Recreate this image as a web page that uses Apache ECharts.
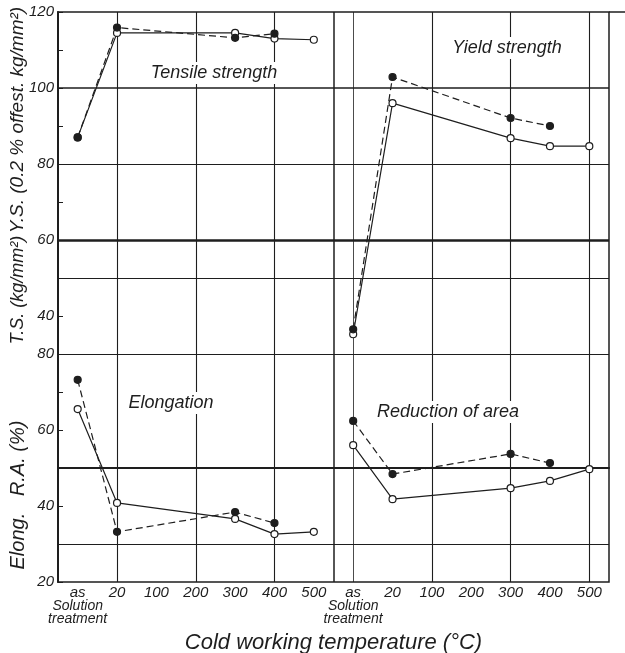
<!DOCTYPE html>
<html>
<head>
    <meta charset="utf-8">
    <title>Cold working temperature</title>
    <script src="https://cdn.jsdelivr.net/npm/echarts@6/dist/echarts.min.js"></script>
    <style>
        html, body { margin: 0; padding: 0; background: #fff; }
        #main { width: 625px; height: 653px; }
    </style>
</head>
<body>
<div id="main"></div>
<script>
    // categories of each panel (left: strength/elongation, right: yield/RA)
    var temps = ['as', '20', '100', '200', '300', '400', '500'];

    // upper scale kg/mm2 (null = not measured)
    var tsOpen   = [87.0, 114.5, null, null, 114.5, 113.0, 112.7];
    var tsFilled = [87.0, 115.9, null, null, 113.2, 114.3, null];
    var ysOpen   = [35.2, 96.0, null, null, 86.8, 84.7, 84.7];
    var ysFilled = [36.5, 102.9, null, null, 92.1, 90.0, null];

    // lower scale %
    var elOpen   = [65.5, 40.8, null, null, 36.6, 32.6, 33.2];
    var elFilled = [73.2, 33.2, null, null, 38.4, 35.5, null];
    var raOpen   = [56.0, 41.8, null, null, 44.7, 46.6, 49.7];
    var raFilled = [62.4, 48.4, null, null, 53.7, 51.3, null];

    // tick labels shown on the left axis
    var upperLabels = [120, 100, 80, 60, 40];
    var lowerLabels = [80, 60, 40, 20];

    // grid lines (upper scale values / temperature categories)
    var hLines = [100, 80, 60, 50, 30, 0, -20];
    var leftVLines = ['20', '200', '400'];
    var rightVLines = ['as', '100', '300', '500'];

    var INK = '#1e1e1e';
    var FONT = '"Liberation Sans", "DejaVu Sans", sans-serif';

    var myChart = echarts.init(document.getElementById('main'));

    // x position of a category in panel 0 (left) or 1 (right)
    function xPos(panel, i) {
        return panel * temps.length + i + 0.5;
    }

    function toData(arr, panel) {
        var out = [];
        arr.forEach(function (v, i) {
            if (v !== null) out.push([xPos(panel, i), v]);
        });
        return out;
    }

    function makeSeries(arr, panel, filled, yIdx) {
        return {
            type: 'line',
            xAxisIndex: 1,
            yAxisIndex: yIdx,
            data: toData(arr, panel),
            symbol: 'circle',
            symbolSize: 7,
            z: 5,
            lineStyle: {
                color: INK,
                width: 1.2,
                type: filled ? [7, 4] : 'solid'
            },
            itemStyle: {
                color: filled ? INK : '#fff',
                borderColor: INK,
                borderWidth: 1.2
            }
        };
    }

    var gridLines = [];
    hLines.forEach(function (v) {
        gridLines.push({yAxis: v, lineStyle: {width: v === 60 ? 2.6 : (v === 100 ? 1.6 : 1.2)}});
    });
    leftVLines.forEach(function (t) {
        gridLines.push({xAxis: xPos(0, temps.indexOf(t)), lineStyle: {width: 1.1}});
    });
    rightVLines.forEach(function (t) {
        gridLines.push({xAxis: xPos(1, temps.indexOf(t)), lineStyle: {width: t === 'as' ? 0.8 : 1.1}});
    });
    // separator between the two panels
    gridLines.push({xAxis: temps.length, lineStyle: {width: 1.5}});

    var allLabels = temps.concat(temps);

    var labelStyle = {
        margin: 4,
        color: INK,
        fontFamily: FONT,
        fontStyle: 'italic',
        fontSize: 15
    };

    myChart.setOption({
        animation: false,
        backgroundColor: '#fff',
        grid: {
            left: 58, right: 16, top: 12, bottom: 71,
            outerBoundsMode: 'none',
            containLabel: false,
            show: true,
            borderColor: INK,
            borderWidth: 1.5
        },
        xAxis: [
            {
                type: 'category',
                data: allLabels.map(function (t, i) { return 'c' + i; }),
                boundaryGap: true,
                axisLine: {lineStyle: {color: INK, width: 2}},
                axisTick: {
                    inside: true, alignWithLabel: true, length: 8, interval: 0,
                    lineStyle: {color: INK, width: 1.2}
                },
                splitLine: {show: false},
                axisLabel: {
                    interval: 0,
                    margin: 4,
                    color: INK,
                    fontFamily: FONT,
                    fontStyle: 'italic',
                    fontSize: 15,
                    lineHeight: 14,
                    formatter: function (value, index) {
                        var t = allLabels[index];
                        if (t === 'as') return 'as\n{s|Solution}\n{s|treatment}';
                        return t;
                    },
                    rich: {
                        s: {fontFamily: FONT, fontStyle: 'italic', fontSize: 14, lineHeight: 13, color: INK}
                    }
                },
                name: 'Cold working temperature (°C)',
                nameLocation: 'middle',
                nameGap: 40,
                nameTextStyle: {
                    color: INK, fontFamily: FONT, fontStyle: 'italic', fontSize: 22
                }
            },
            {
                type: 'value',
                min: 0,
                max: temps.length * 2,
                show: false
            }
        ],
        yAxis: [
            {
                type: 'value',
                position: 'left',
                min: -30,
                max: 120,
                interval: 10,
                axisLine: {show: true, lineStyle: {color: INK, width: 2}},
                axisTick: {show: true, inside: true, length: 5, lineStyle: {color: INK, width: 1}},
                splitLine: {show: false},
                axisLabel: Object.assign({}, labelStyle, {
                    formatter: function (v) {
                        return upperLabels.indexOf(v) >= 0 ? String(v) : '';
                    }
                })
            },
            {
                type: 'value',
                position: 'left',
                offset: 0,
                min: 20,
                max: 170,
                interval: 10,
                axisLine: {show: false},
                axisTick: {show: false},
                splitLine: {show: false},
                axisLabel: Object.assign({}, labelStyle, {
                    formatter: function (v) {
                        return lowerLabels.indexOf(v) >= 0 ? String(v) : '';
                    }
                })
            }
        ],
        series: [
            {
                type: 'line',
                xAxisIndex: 1,
                yAxisIndex: 0,
                data: [],
                z: 1,
                markLine: {
                    silent: true,
                    symbol: 'none',
                    label: {show: false},
                    lineStyle: {color: INK, type: 'solid', width: 1.2},
                    data: gridLines
                }
            },
            makeSeries(tsOpen, 0, false, 0),
            makeSeries(tsFilled, 0, true, 0),
            makeSeries(ysOpen, 1, false, 0),
            makeSeries(ysFilled, 1, true, 0),
            makeSeries(elOpen, 0, false, 1),
            makeSeries(elFilled, 0, true, 1),
            makeSeries(raOpen, 1, false, 1),
            makeSeries(raFilled, 1, true, 1)
        ],
        graphic: [
            {type: 'line', z: 10, shape: {x1: 609, y1: 12, x2: 625, y2: 12}, style: {stroke: INK, lineWidth: 1.5}},
            {
                type: 'text', z: 20, x: 214, y: 73,
                style: {text: 'Tensile strength', font: 'italic 18px ' + FONT, fill: INK, align: 'center', verticalAlign: 'middle', backgroundColor: '#fff', padding: [2, 3]}
            },
            {
                type: 'text', z: 20, x: 507, y: 48,
                style: {text: 'Yield strength', font: 'italic 18px ' + FONT, fill: INK, align: 'center', verticalAlign: 'middle', backgroundColor: '#fff', padding: [2, 3]}
            },
            {
                type: 'text', z: 20, x: 171, y: 403,
                style: {text: 'Elongation', font: 'italic 18px ' + FONT, fill: INK, align: 'center', verticalAlign: 'middle', backgroundColor: '#fff', padding: [2, 3]}
            },
            {
                type: 'text', z: 20, x: 448, y: 412,
                style: {text: 'Reduction of area', font: 'italic 18px ' + FONT, fill: INK, align: 'center', verticalAlign: 'middle', backgroundColor: '#fff', padding: [2, 3]}
            },
            {
                type: 'text', z: 20, x: 18, y: 120, rotation: Math.PI / 2,
                style: {text: 'Y.S. (0.2 % offest. kg/mm²)', font: 'italic 19px ' + FONT, fill: INK, align: 'center', verticalAlign: 'middle'}
            },
            {
                type: 'text', z: 20, x: 18, y: 290, rotation: Math.PI / 2,
                style: {text: 'T.S. (kg/mm²)', font: 'italic 18px ' + FONT, fill: INK, align: 'center', verticalAlign: 'middle'}
            },
            {
                type: 'text', z: 20, x: 18, y: 495, rotation: Math.PI / 2,
                style: {text: 'Elong.   R.A. (%)', font: 'italic 20px ' + FONT, fill: INK, align: 'center', verticalAlign: 'middle'}
            }
        ]
    });
</script>
</body>
</html>
